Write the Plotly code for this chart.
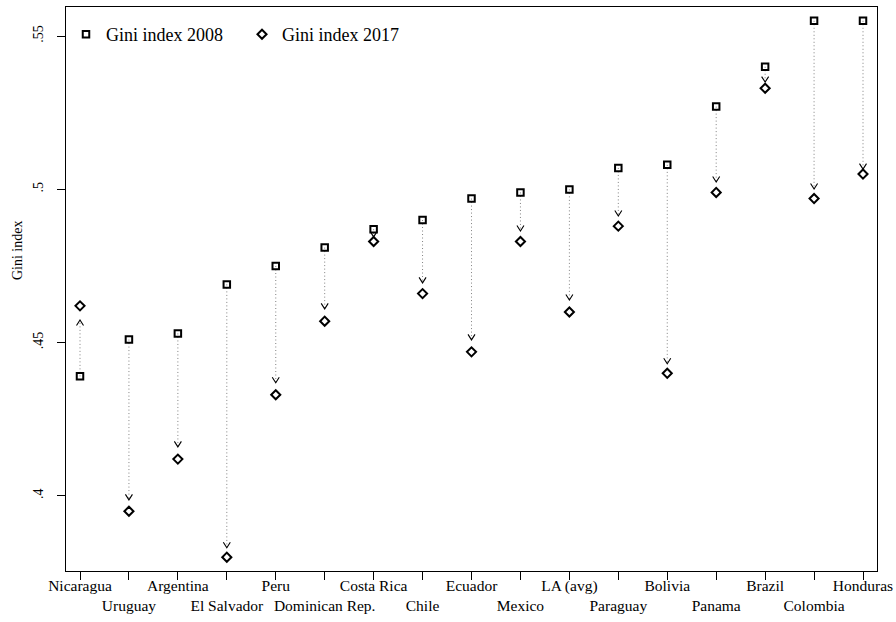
import plotly.graph_objects as go

# Gini index by country, 2008 vs 2017
countries = ["Nicaragua", "Uruguay", "Argentina", "El Salvador", "Peru",
             "Dominican Rep.", "Costa Rica", "Chile", "Ecuador", "Mexico",
             "LA (avg)", "Paraguay", "Bolivia", "Panama", "Brazil",
             "Colombia", "Honduras"]
gini_2008 = [0.439, 0.451, 0.453, 0.469, 0.475, 0.481, 0.487, 0.490, 0.497,
             0.499, 0.500, 0.507, 0.508, 0.527, 0.540, 0.555, 0.555]
gini_2017 = [0.462, 0.395, 0.412, 0.380, 0.433, 0.457, 0.483, 0.466, 0.447,
             0.483, 0.460, 0.488, 0.440, 0.499, 0.533, 0.497, 0.505]
# where each change arrow ends
arrow_end = [0.4574, 0.3987, 0.4160, 0.3831, 0.4369, 0.4610, 0.4845, 0.4695,
             0.4509, 0.4864, 0.4639, 0.4913, 0.4431, 0.5024, 0.5350, 0.5001,
             0.5066]
y_ticks = [0.40, 0.45, 0.50, 0.55]
y_tick_labels = [".4", ".45", ".5", ".55"]

FONT = "Liberation Serif"
W, H = 896, 622
M = dict(l=66, r=19, t=7, b=51)
X_RANGE = [-0.286, 16.286]
Y_RANGE = [0.3755, 0.5595]

# data units per pixel, used to size the arrowheads in screen space
px_x = (X_RANGE[1] - X_RANGE[0]) / (W - M["l"] - M["r"])
px_y = (Y_RANGE[1] - Y_RANGE[0]) / (H - M["t"] - M["b"])

xs = list(range(len(countries)))

# dotted connectors from 2008 value to arrow tip
line_x, line_y = [], []
for i, (a, b) in enumerate(zip(gini_2008, arrow_end)):
    line_x += [i, i, None]
    line_y += [a, b, None]

# open "v" arrowheads pointing toward the 2017 value
HALF_W, HEAD_H = 3.5, 5.5
head_x, head_y = [], []
for i, (a, b) in enumerate(zip(gini_2008, arrow_end)):
    d = 1 if b > a else -1
    back = b - d * HEAD_H * px_y
    head_x += [i - HALF_W * px_x, i, i + HALF_W * px_x, None]
    head_y += [back, b, back, None]

fig = go.Figure()
fig.add_trace(go.Scatter(
    x=line_x, y=line_y, mode="lines", showlegend=False, hoverinfo="skip",
    line=dict(color="#808080", width=1, dash="1px,2.5px")))
fig.add_trace(go.Scatter(
    x=head_x, y=head_y, mode="lines", showlegend=False, hoverinfo="skip",
    line=dict(color="black", width=1.1)))
fig.add_trace(go.Scatter(
    x=xs, y=gini_2008, mode="markers", name="Gini index 2008",
    marker=dict(symbol="square-open", size=6.5, color="black",
                line=dict(width=2, color="black"))))
fig.add_trace(go.Scatter(
    x=xs, y=gini_2017, mode="markers", name="Gini index 2017",
    marker=dict(symbol="diamond-open", size=7, color="black",
                line=dict(width=2, color="black"))))

# staggered category labels on two rows
tick_text = [c if i % 2 == 0 else "<br>" + c for i, c in enumerate(countries)]

fig.update_layout(
    width=W, height=H, margin=M,
    paper_bgcolor="white", plot_bgcolor="white",
    font=dict(family=FONT, color="black"),
    showlegend=True,
    legend=dict(orientation="h", x=0.0, y=0.984, xanchor="left", yanchor="top",
                font=dict(size=18, family=FONT), entrywidth=131,
                bgcolor="rgba(0,0,0,0)", itemsizing="trace"),
    xaxis=dict(range=X_RANGE, tickmode="array", tickvals=xs, ticktext=tick_text,
               ticks="outside", ticklen=8, tickwidth=1, tickcolor="black",
               tickfont=dict(size=15.5, family=FONT), ticklabelstandoff=-8,
               showline=True, linecolor="black", linewidth=1.2, mirror=True,
               showgrid=False, zeroline=False, tickangle=0, automargin=False),
    yaxis=dict(range=Y_RANGE, tickmode="array", tickvals=y_ticks,
               ticktext=y_tick_labels, tickangle=-90, ticklabelstandoff=8,
               ticks="outside", ticklen=8, tickwidth=1, tickcolor="black",
               tickfont=dict(size=14, family=FONT),
               showline=True, linecolor="black", linewidth=1.2, mirror=True,
               showgrid=False, zeroline=False, automargin=False),
    annotations=[dict(text="Gini index", xref="paper", yref="paper",
                      x=-0.0604, y=0.569, xanchor="center", yanchor="middle",
                      textangle=-90, showarrow=False,
                      font=dict(size=14, family=FONT))],
)

fig.write_html("out.html")
